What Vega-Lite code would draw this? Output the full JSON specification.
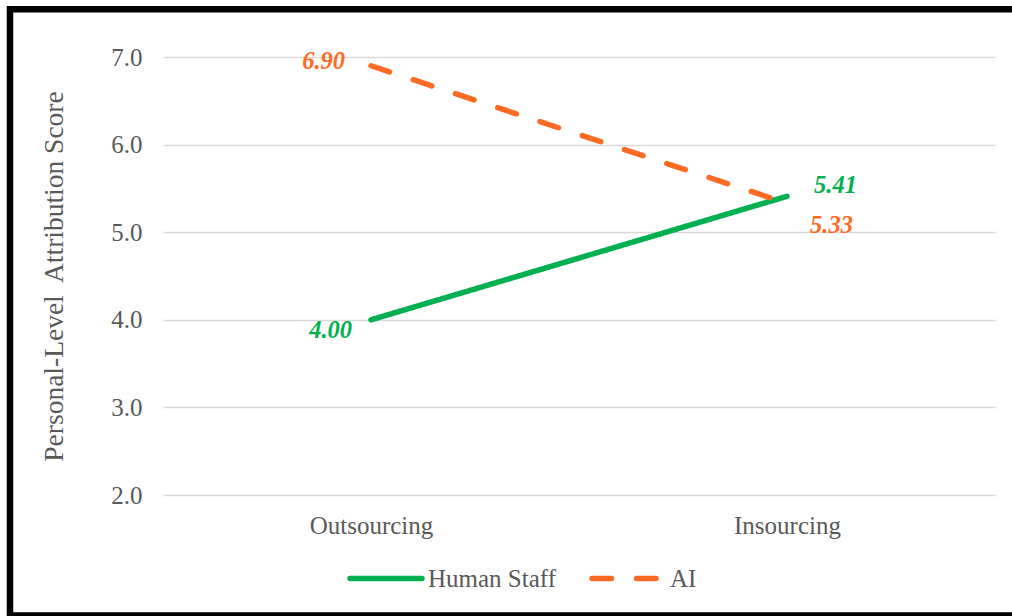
{
  "$schema": "https://vega.github.io/schema/vega-lite/v6.json",
  "width": 832,
  "height": 438,
  "autosize": {"type": "none"},
  "padding": {"left": 163, "top": 57, "right": 17, "bottom": 121},
  "background": "white",
  "config": {
    "view": {"stroke": null},
    "font": "Liberation Serif",
    "axis": {"labelFont": "Liberation Serif", "titleFont": "Liberation Serif"},
    "legend": {"labelFont": "Liberation Serif"}
  },
  "data": {
    "values": [
      {"condition": "Outsourcing", "group": "Human Staff", "score": 4.00, "label": "4.00"},
      {"condition": "Insourcing", "group": "Human Staff", "score": 5.41, "label": "5.41"},
      {"condition": "Outsourcing", "group": "AI", "score": 6.90, "label": "6.90"},
      {"condition": "Insourcing", "group": "AI", "score": 5.33, "label": "5.33"}
    ]
  },
  "encoding": {
    "x": {
      "field": "condition",
      "type": "nominal",
      "sort": ["Outsourcing", "Insourcing"],
      "scale": {"type": "point", "padding": 0.5},
      "axis": {
        "title": null,
        "labelAngle": 0,
        "domain": false,
        "ticks": false,
        "tickSize": 0,
        "grid": false,
        "labelPadding": 18,
        "labelFontSize": 25,
        "labelColor": "#595959"
      }
    },
    "y": {
      "field": "score",
      "type": "quantitative",
      "scale": {"domain": [2, 7], "nice": false, "zero": false},
      "axis": {
        "title": "Personal-Level\u00a0 Attribution Score",
        "values": [2, 3, 4, 5, 6, 7],
        "format": ".1f",
        "domain": false,
        "ticks": false,
        "tickSize": 0,
        "labelPadding": 21,
        "labelFontSize": 25,
        "labelColor": "#595959",
        "titleFontSize": 27.5,
        "titleFontWeight": "normal",
        "titleColor": "#595959",
        "titlePadding": 42,
        "gridColor": "#D9D9D9",
        "gridWidth": 1.6
      }
    }
  },
  "layer": [
    {
      "data": {"values": [{}]},
      "mark": {"type": "rect", "filled": false, "stroke": "black", "strokeWidth": 6.5, "clip": false},
      "encoding": {
        "x": {"value": -153},
        "x2": {"value": 857},
        "y": {"value": -47.7},
        "y2": {"value": 558.5}
      }
    },
    {
      "transform": [{"filter": "datum.group === 'Human Staff'"}],
      "mark": {"type": "line", "strokeWidth": 5.5, "strokeCap": "round"},
      "encoding": {
        "color": {
          "field": "group", "type": "nominal",
          "scale": {"domain": ["Human Staff", "AI"], "range": ["#00B050", "#FF6A24"]},
          "legend": {
            "title": null, "orient": "none", "legendX": 184, "legendY": 482.5,
            "direction": "horizontal", "symbolType": "stroke", "symbolSize": 5184,
            "symbolStrokeWidth": 5.5, "labelFontSize": 25, "labelColor": "#595959",
            "labelOffset": 3, "columnPadding": 25, "padding": 0,
            "encoding": {"symbols": {"strokeCap": {"value": "round"}}}
          }
        },
        "strokeDash": {
          "field": "group", "type": "nominal",
          "scale": {"domain": ["Human Staff", "AI"], "range": [[1, 0], [19.5, 25]]},
          "legend": {
            "title": null, "orient": "none", "legendX": 184, "legendY": 482.5,
            "direction": "horizontal", "symbolType": "stroke", "symbolSize": 5184,
            "symbolStrokeWidth": 5.5, "labelFontSize": 25, "labelColor": "#595959",
            "labelOffset": 3, "columnPadding": 25, "padding": 0,
            "encoding": {"symbols": {"strokeCap": {"value": "round"}}}
          }
        }
      }
    },
    {
      "transform": [{"filter": "datum.group === 'AI'"}],
      "mark": {"type": "line", "strokeWidth": 5.5, "strokeCap": "round"},
      "encoding": {
        "color": {"field": "group", "type": "nominal"},
        "strokeDash": {"field": "group", "type": "nominal"}
      }
    },
    {
      "transform": [{"filter": "datum.group === 'AI' && datum.condition === 'Outsourcing'"}],
      "mark": {"type": "text", "align": "right", "baseline": "alphabetic", "dx": -26, "dy": 3, "fontSize": 24.5, "fontStyle": "italic", "fontWeight": "bold", "color": "#FF6A24"},
      "encoding": {"text": {"field": "label"}}
    },
    {
      "transform": [{"filter": "datum.group === 'Human Staff' && datum.condition === 'Outsourcing'"}],
      "mark": {"type": "text", "align": "right", "baseline": "alphabetic", "dx": -19, "dy": 18, "fontSize": 24.5, "fontStyle": "italic", "fontWeight": "bold", "color": "#00B050"},
      "encoding": {"text": {"field": "label"}}
    },
    {
      "transform": [{"filter": "datum.group === 'Human Staff' && datum.condition === 'Insourcing'"}],
      "mark": {"type": "text", "align": "left", "baseline": "alphabetic", "dx": 27, "dy": -3, "fontSize": 24.5, "fontStyle": "italic", "fontWeight": "bold", "color": "#00B050"},
      "encoding": {"text": {"field": "label"}}
    },
    {
      "transform": [{"filter": "datum.group === 'AI' && datum.condition === 'Insourcing'"}],
      "mark": {"type": "text", "align": "left", "baseline": "alphabetic", "dx": 23, "dy": 30, "fontSize": 24.5, "fontStyle": "italic", "fontWeight": "bold", "color": "#FF6A24"},
      "encoding": {"text": {"field": "label"}}
    }
  ]
}
